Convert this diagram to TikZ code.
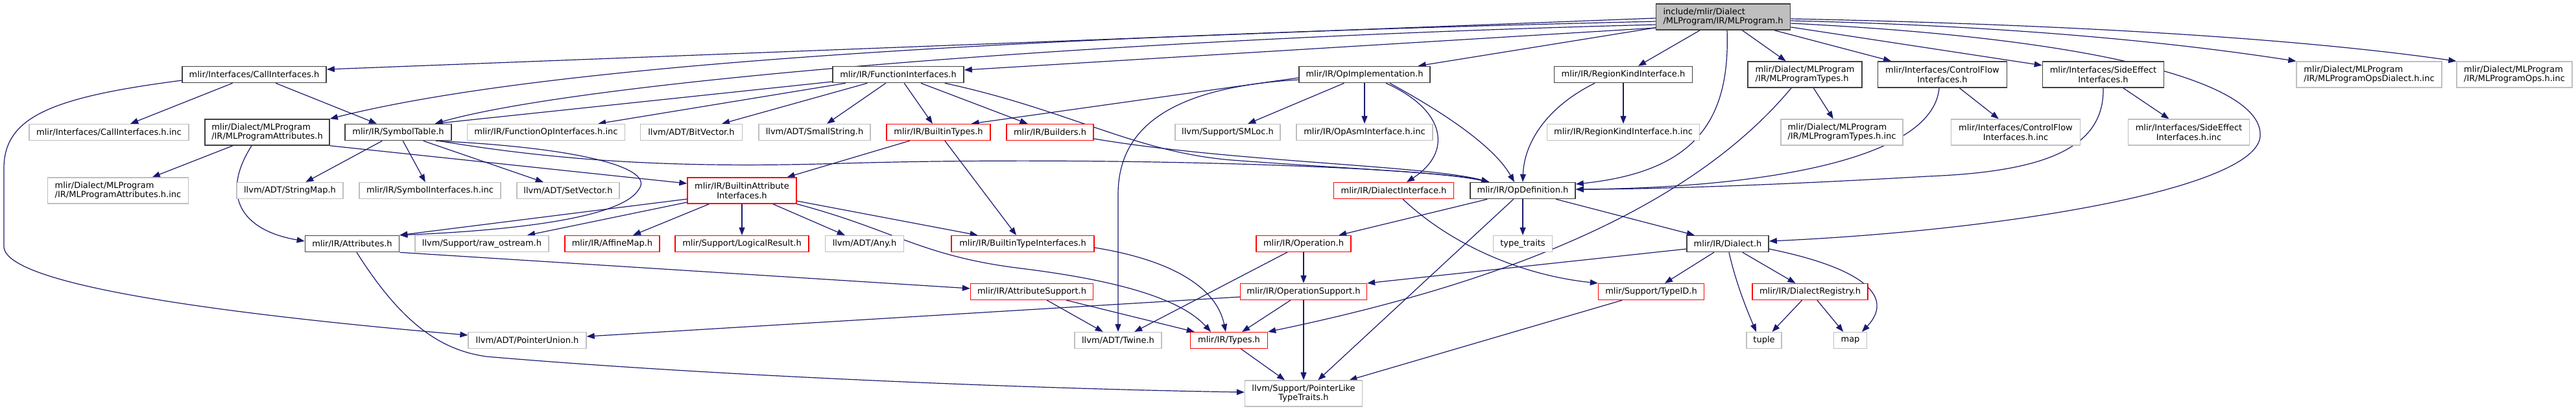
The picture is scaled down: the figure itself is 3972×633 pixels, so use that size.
\documentclass[tikz,border=0pt]{standalone}
\usepackage{fontspec}
\setmainfont{DejaVu Sans}
\usetikzlibrary{arrows.meta}
\definecolor{edgec}{HTML}{191970}
\definecolor{grayb}{HTML}{BFBFBF}
\definecolor{darkb}{HTML}{404040}
\definecolor{redb}{HTML}{FF0000}
\pgfdeclarelayer{bg}
\pgfsetlayers{bg,main}
\begin{document}
\begin{tikzpicture}[x=1pt,y=1pt,font=\fontsize{13}{14.5}\selectfont,
  base/.style={rectangle, inner sep=0pt, line width=1.3pt, fill=white, minimum height=25pt},
  nb/.style={base, draw=darkb, line width=1.6pt},
  nr/.style={base, draw=redb},
  ng/.style={base, draw=grayb},
  rootbox/.style={base, draw=darkb, fill=grayb, line width=1.6pt},
  two/.style={minimum height=40pt},
  e/.style={draw=edgec, line width=1.2pt, -{Triangle[length=12pt,width=9pt]}}]
\useasboundingbox (0,0) rectangle (3972,-633);
% row 0
\node[rootbox, two, align=left, minimum width=207pt] (root) at (2657,-26) {include/mlir/Dialect\\/MLProgram/IR/MLProgram.h};
% row 1
\node[nb, minimum width=222pt] (callif) at (392,-115) {mlir/Interfaces/CallInterfaces.h};
\node[nb, minimum width=202pt] (funcif) at (1385,-115) {mlir/IR/FunctionInterfaces.h};
\node[nb, minimum width=202pt] (opimpl) at (2104,-115) {mlir/IR/OpImplementation.h};
\node[nb, minimum width=213pt] (regkind) at (2503,-115) {mlir/IR/RegionKindInterface.h};
\node[nb, two, align=left, minimum width=176pt] (mltypes) at (2783,-115) {mlir/Dialect/MLProgram\\/IR/MLProgramTypes.h};
\node[nb, two, align=center, minimum width=199pt] (cflow) at (2995,-115) {mlir/Interfaces/ControlFlow\\Interfaces.h};
\node[nb, two, align=center, minimum width=187pt] (sideeff) at (3243,-115) {mlir/Interfaces/SideEffect\\Interfaces.h};
\node[ng, two, align=left, minimum width=224pt] (opsdialinc) at (3653,-115) {mlir/Dialect/MLProgram\\/IR/MLProgramOpsDialect.h.inc};
\node[ng, two, align=left, minimum width=178pt] (opsinc) at (3877,-115) {mlir/Dialect/MLProgram\\/IR/MLProgramOps.h.inc};
% row 2
\node[ng, minimum width=246pt] (callifinc) at (168,-204) {mlir/Interfaces/CallInterfaces.h.inc};
\node[nb, two, align=left, minimum width=192pt] (mlattr) at (412,-204) {mlir/Dialect/MLProgram\\/IR/MLProgramAttributes.h};
\node[nb, minimum width=164pt] (symtab) at (614,-204) {mlir/IR/SymbolTable.h};
\node[ng, minimum width=243pt] (funcopinc) at (842,-204) {mlir/IR/FunctionOpInterfaces.h.inc};
\node[ng, minimum width=157pt] (bitvec) at (1066,-204) {llvm/ADT/BitVector.h};
\node[ng, minimum width=172pt] (smallstr) at (1256,-204) {llvm/ADT/SmallString.h};
\node[nr, minimum width=160pt] (bitypes) at (1447,-204) {mlir/IR/BuiltinTypes.h};
\node[nr, minimum width=134pt] (builders) at (1619,-204) {mlir/IR/Builders.h};
\node[ng, minimum width=162pt] (smloc) at (1893,-204) {llvm/Support/SMLoc.h};
\node[ng, minimum width=210pt] (opasminc) at (2104,-204) {mlir/IR/OpAsmInterface.h.inc};
\node[ng, minimum width=235pt] (regkindinc) at (2503,-204) {mlir/IR/RegionKindInterface.h.inc};
\node[ng, two, align=left, minimum width=188pt] (mltypesinc) at (2840,-204) {mlir/Dialect/MLProgram\\/IR/MLProgramTypes.h.inc};
\node[ng, two, align=center, minimum width=199pt] (cflowinc) at (3108,-204) {mlir/Interfaces/ControlFlow\\Interfaces.h.inc};
\node[ng, two, align=center, minimum width=187pt] (sideeffinc) at (3375,-204) {mlir/Interfaces/SideEffect\\Interfaces.h.inc};
% row 3
\node[ng, two, align=left, minimum width=217pt] (mlattrinc) at (182,-294) {mlir/Dialect/MLProgram\\/IR/MLProgramAttributes.h.inc};
\node[ng, minimum width=164pt] (strmap) at (447,-294) {llvm/ADT/StringMap.h};
\node[ng, minimum width=218pt] (symifinc) at (663,-294) {mlir/IR/SymbolInterfaces.h.inc};
\node[ng, minimum width=158pt] (setvec) at (876,-294) {llvm/ADT/SetVector.h};
\node[nr, two, align=center, minimum width=168pt] (biattrif) at (1144,-294) {mlir/IR/BuiltinAttribute\\Interfaces.h};
\node[nr, minimum width=185pt] (dialif) at (2149,-294) {mlir/IR/DialectInterface.h};
\node[nb, minimum width=162pt] (opdef) at (2348,-294) {mlir/IR/OpDefinition.h};
% row 4
\node[nb, minimum width=145pt] (attrs) at (543,-376) {mlir/IR/Attributes.h};
\node[ng, minimum width=206pt] (rawos) at (743,-376) {llvm/Support/raw\_ostream.h};
\node[nr, minimum width=146pt] (affmap) at (944,-376) {mlir/IR/AffineMap.h};
\node[nr, minimum width=206pt] (logres) at (1144,-376) {mlir/Support/LogicalResult.h};
\node[ng, minimum width=121pt] (any) at (1333,-376) {llvm/ADT/Any.h};
\node[nr, minimum width=220pt] (bitypeif) at (1577,-376) {mlir/IR/BuiltinTypeInterfaces.h};
\node[nr, minimum width=146pt] (operation) at (2010,-376) {mlir/IR/Operation.h};
\node[ng, minimum width=91pt] (typetraits) at (2348,-376) {type\_traits};
\node[nb, minimum width=126pt] (dialect) at (2664,-376) {mlir/IR/Dialect.h};
% row 5
\node[nr, minimum width=189pt] (attrsup) at (1591,-450) {mlir/IR/AttributeSupport.h};
\node[nr, minimum width=195pt] (opsup) at (2010,-450) {mlir/IR/OperationSupport.h};
\node[nr, minimum width=163pt] (typeid) at (2546,-450) {mlir/Support/TypeID.h};
\node[nr, minimum width=178pt] (dialreg) at (2791,-450) {mlir/IR/DialectRegistry.h};
% row 6
\node[ng, minimum width=182pt] (ptrunion) at (813,-525) {llvm/ADT/PointerUnion.h};
\node[ng, minimum width=134pt] (twine) at (1724,-525) {llvm/ADT/Twine.h};
\node[nr, minimum width=119pt] (types) at (1895,-525) {mlir/IR/Types.h};
\node[ng, minimum width=54pt] (tuple) at (2720,-525) {tuple};
\node[ng, minimum width=51pt] (map) at (2853,-525) {map};
% row 7
\node[ng, two, align=center, minimum width=181pt] (ptrlike) at (2010,-607) {llvm/Support/PointerLike\\TypeTraits.h};

\begin{pgfonlayer}{bg}
% from root
\draw[e] ([yshift=-2pt]root.west) -- ([yshift=8pt]callif.east);
\draw[e] ([yshift=-7pt]root.west) .. controls (1400,-60) and (800,-110) .. (mlattr.north east);
\draw[e] ([yshift=-12pt]root.west) .. controls (1700,-60) and (900,-125) .. ([xshift=-26pt]symtab.north east);
\draw[e] ([yshift=-17pt]root.west) -- ([yshift=7pt]funcif.east);
\draw[e] (root) -- (opimpl);
\draw[e] (root) -- (regkind);
\draw[e] (root) -- (mltypes);
\draw[e] (root) -- (cflow);
\draw[e] (root) -- (sideeff);
\draw[e] ([yshift=-6pt]root.east) .. controls (3100,-40) and (3350,-65) .. (opsdialinc.north west);
\draw[e] ([yshift=-3pt]root.east) .. controls (3200,-38) and (3550,-60) .. (opsinc.north west);
\draw[e] ([yshift=-10pt]root.east) .. controls (3250,-60) and (3490,-130) .. (3485,-210) .. controls (3480,-290) and (3100,-355) .. ([yshift=4pt]dialect.east);
\draw[e] ([xshift=6pt]root.south) .. controls (2668,-190) and (2610,-265) .. ([yshift=10pt]opdef.east);
% callif
\draw[e] (callif) -- (callifinc);
\draw[e] (callif) -- (symtab);
\draw[e] ([yshift=-9pt]callif.west) .. controls (80,-150) and (6,-180) .. (6,-260) -- (6,-380) .. controls (6,-440) and (350,-485) .. ([yshift=8pt]ptrunion.west);
% mlattr
\draw[e] (mlattr) -- (mlattrinc);
\draw[e] ([xshift=-24pt]mlattr.south) .. controls (340,-300) and (370,-355) .. ([yshift=4pt]attrs.west);
\draw[e] (mlattr.south east) -- ([yshift=11pt]biattrif.west);
% symtab
\draw[e] (symtab) -- (strmap);
\draw[e] (symtab) -- (symifinc);
\draw[e] (symtab) -- (setvec);
\draw[e] ([xshift=-20pt]symtab.south east) .. controls (900,-255) and (1100,-258) .. (1300,-252) .. controls (1700,-240) and (2200,-258) .. ([xshift=30pt]opdef.north west);
\draw[e] ([xshift=-25pt]symtab.south east) .. controls (900,-228) and (1010,-260) .. (985,-292) .. controls (960,-335) and (800,-355) .. (attrs.north east);
% funcif
\draw[e] ([yshift=-11pt]funcif.west) -- ([xshift=-26pt]symtab.north east);
\draw[e] (funcif) -- (funcopinc);
\draw[e] (funcif) -- (bitvec);
\draw[e] (funcif) -- (smallstr);
\draw[e] (funcif) -- (bitypes);
\draw[e] (funcif) -- (builders);
\draw[e] ([xshift=-30pt]funcif.south east) .. controls (1650,-170) and (1750,-235) .. (1900,-247) .. controls (2100,-262) and (2220,-265) .. ([xshift=30pt]opdef.north west);
% builders, bitypes
\draw[e] ([yshift=-10pt]builders.east) .. controls (1900,-250) and (2200,-255) .. ([xshift=30pt]opdef.north west);
\draw[e] (bitypes) -- (biattrif);
\draw[e] (bitypes) -- (bitypeif);
% opimpl
\draw[e] ([yshift=-5pt]opimpl.west) -- ([xshift=-30pt]bitypes.north east);
\draw[e] (opimpl) -- (smloc);
\draw[e] (opimpl) -- (opasminc);
\draw[e] ([yshift=-8pt]opimpl.west) .. controls (1800,-135) and (1724,-200) .. (1724,-300) -- (twine.north);
\draw[e] ([xshift=33pt]opimpl.south) .. controls (2230,-170) and (2240,-235) .. ([xshift=20pt]dialif.north);
\draw[e] ([xshift=39pt]opimpl.south) .. controls (2210,-165) and (2300,-220) .. ([xshift=-13pt]opdef.north);
% regkind
\draw[e] (regkind) -- (regkindinc);
\draw[e] ([xshift=-44pt]regkind.south) .. controls (2385,-165) and (2350,-220) .. (opdef.north);
% mltypes, cflow, sideeff
\draw[e] (mltypes) -- (mltypesinc);
\draw[e] ([xshift=-21pt]mltypes.south) .. controls (2600,-330) and (2300,-440) .. (types.north east);
\draw[e] (cflow) -- (cflowinc);
\draw[e] ([xshift=-5pt]cflow.south) .. controls (2980,-250) and (2700,-290) .. ([yshift=2pt]opdef.east);
\draw[e] (sideeff) -- (sideeffinc);
\draw[e] (sideeff.south) .. controls (3245,-230) and (3150,-265) .. (2972,-272) .. controls (2750,-285) and (2550,-292) .. ([yshift=2pt]opdef.east);
% opdef
\draw[e] (opdef) -- (operation);
\draw[e] (opdef) -- (ptrlike);
\draw[e] (opdef) -- (typetraits);
\draw[e] (opdef) -- (dialect);
% dialif
\draw[e] ([xshift=14pt]dialif.south) .. controls (2240,-380) and (2350,-425) .. (typeid.north west);
% operation
\draw[e] (operation) -- (opsup);
\draw[e] (operation) -- (twine);
% dialect
\draw[e] ([yshift=-8pt]dialect.west) -- (opsup.north east);
\draw[e] (dialect) -- (typeid);
\draw[e] ([xshift=2pt]dialect.south) .. controls (2675,-430) and (2690,-470) .. ([xshift=-12pt]tuple.north);
\draw[e] (dialect) -- (dialreg);
\draw[e] ([yshift=-8pt]dialect.east) .. controls (2880,-415) and (2920,-460) .. ([xshift=18pt]map.north);
\draw[e] (dialreg) -- (tuple);
\draw[e] (dialreg) -- (map);
\draw[e] (typeid) -- (ptrlike);
% attrsup, opsup
\draw[e] (attrsup) -- (twine);
\draw[e] (attrsup) -- (types);
\draw[e] ([yshift=-8pt]opsup.west) -- ([yshift=6pt]ptrunion.east);
\draw[e] (opsup) -- (types);
\draw[e] (opsup) -- (ptrlike);
% attrs
\draw[e] (attrs.south east) -- ([yshift=5pt]attrsup.west);
\draw[e] ([xshift=7pt]attrs.south) .. controls (620,-500) and (680,-540) .. (750,-550) .. controls (1100,-580) and (1600,-600) .. ([yshift=2pt]ptrlike.west);
% biattrif
\draw[e] ([yshift=-13pt]biattrif.west) -- (attrs.north east);
\draw[e] ([yshift=-18pt]biattrif.west) -- ([xshift=70pt]rawos.north);
\draw[e] (biattrif) -- (affmap);
\draw[e] (biattrif) -- (logres);
\draw[e] (biattrif) -- (any);
\draw[e] (biattrif) -- (bitypeif);
\draw[e] (biattrif.south east) .. controls (1380,-355) and (1420,-395) .. (1574,-414) .. controls (1720,-432) and (1820,-460) .. ([xshift=-28pt]types.north);
% bitypeif, types
\draw[e] ([yshift=-6pt]bitypeif.east) .. controls (1800,-400) and (1875,-440) .. ([xshift=-5pt]types.north);
\draw[e] (types) -- (ptrlike);
\end{pgfonlayer}
\end{tikzpicture}
\end{document}
